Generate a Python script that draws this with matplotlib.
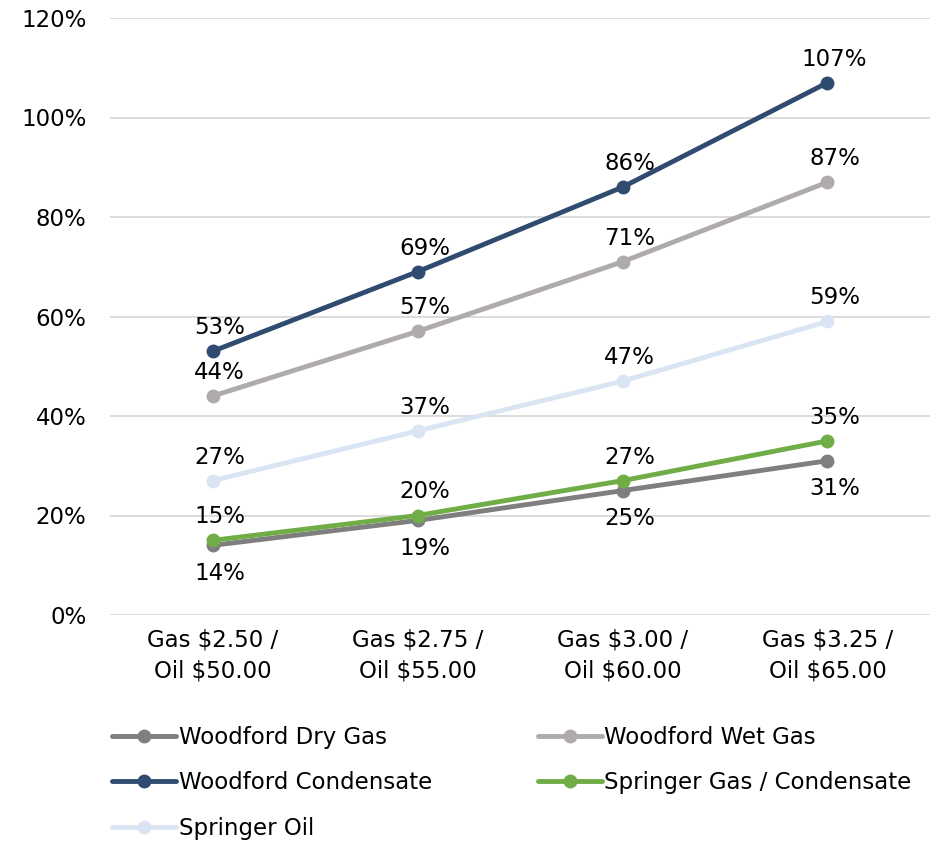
import matplotlib
matplotlib.use("Agg")
import matplotlib.pyplot as plt
from matplotlib.ticker import FuncFormatter

plt.rcParams['font.family'] = ['DejaVu Sans']

categories = ["Gas $2.50 /\nOil $50.00", "Gas $2.75 /\nOil $55.00",
              "Gas $3.00 /\nOil $60.00", "Gas $3.25 /\nOil $65.00"]
series_names = ["Woodford Dry Gas", "Woodford Wet Gas", "Woodford Condensate",
                "Springer Gas / Condensate", "Springer Oil"]
dry_gas = [14, 19, 25, 31]
wet_gas = [44, 57, 71, 87]
condensate = [53, 69, 86, 107]
springer_gas = [15, 20, 27, 35]
springer_oil = [27, 37, 47, 59]
y_ticks = [0, 20, 40, 60, 80, 100, 120]

colors = ["#7f7f7f", "#afabab", "#2f4b6f", "#70ad47", "#dae5f4"]
label_below = [True, False, False, False, False]
values = [dry_gas, wet_gas, condensate, springer_gas, springer_oil]

fig = plt.figure(figsize=(9.31, 8.42), dpi=100)
ax = fig.add_axes([110/931, 1-615/842, 820/931, (615-18)/842])

fs = 16.5
x = list(range(len(categories)))
handles = []
for name, vals, c, below in zip(series_names, values, colors, label_below):
    h, = ax.plot(x, vals, color=c, lw=3.5, marker='o', ms=9, label=name,
                 solid_capstyle='round', zorder=3)
    handles.append(h)
    for xi, v in zip(x, vals):
        off = -20 if below else 17
        ax.annotate(f"{v}%", (xi, v), xytext=(5, off), textcoords='offset points',
                    ha='center', va='center', fontsize=fs, color='black', zorder=5)

ax.set_xlim(-0.5, 3.5)
ax.set_ylim(0, 120)
ax.set_yticks(y_ticks)
ax.yaxis.set_major_formatter(FuncFormatter(lambda v, p: f"{int(v)}%"))
ax.set_xticks(x)
ax.set_xticklabels(categories, fontsize=fs, linespacing=1.45)
ax.tick_params(axis='y', length=0, pad=17, labelsize=fs)
ax.tick_params(axis='x', length=0, pad=10, labelsize=fs)
ax.grid(axis='y', color='#d9d9d9', lw=1.3)
ax.set_axisbelow(True)
for s in ax.spines.values():
    s.set_visible(False)

order = [0, 2, 4, 1, 3]
fig.legend([handles[i] for i in order], [series_names[i] for i in order],
           ncol=2, loc='upper left', bbox_to_anchor=(112/931, 1-726/842),
           frameon=False, fontsize=fs, handlelength=2.8, handletextpad=0.12,
           labelspacing=0.98, columnspacing=4.6, borderpad=0, borderaxespad=0)

fig.savefig("out.png", dpi=100)
